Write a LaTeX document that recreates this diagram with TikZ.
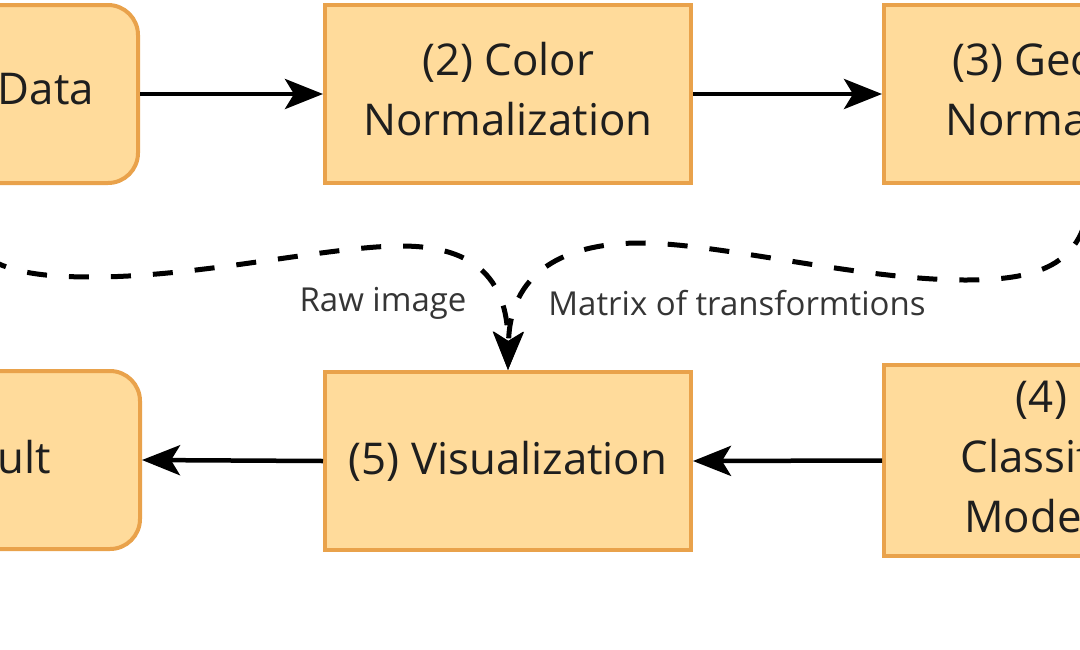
\documentclass[tikz,border=0pt]{standalone}
\usepackage{fontspec}
\setmainfont{Open Sans}
\usetikzlibrary{arrows.meta}
\definecolor{boxfill}{HTML}{FFDB9B}
\definecolor{boxline}{HTML}{E9A24B}
\definecolor{ink}{HTML}{1E1E1E}

\begin{document}
\begin{tikzpicture}[x=1pt,y=-1pt,
        box/.style={draw=boxline,fill=boxfill,line width=4pt,minimum width=366pt,minimum height=178pt,
            inner sep=0pt,align=center,text=ink,font=\fontsize{43.8}{60}\selectfont},
        endbox/.style={box,rounded corners=30pt},
        twoline/.style={text depth=10pt},
        flow/.style={line width=4.5pt,-{Stealth[length=38pt,width=30pt,inset=9pt]}},
        feed/.style={flow,line width=5pt,dash pattern=on 20pt off 22pt},
        lbl/.style={text=ink!90,font=\fontsize{33}{40}\selectfont}]
        \useasboundingbox (0,0) rectangle (1080,649);

        \node [endbox] (input) at(-45,94) {(1) Input Data};
        \node [box,twoline] (color) at(508,94) {(2) Color\\Normalization};
        \node [box,twoline,minimum width=412pt] (geo) at(1090,94) {(3) Geometric\\Normalization};
        \node [box,minimum width=420pt,minimum height=191pt] (model) at(1094,460.5) {(4) CNN\\Classification\\Model (CNN)};
        \node [box] (visual) at(508,461) {(5) Visualization};
        \node [endbox] (result) at(-43,460) {(6) Result};

        \draw [flow] (input.east)--(color.west);
        \draw [flow] (color.east)--(geo.west);
        \draw [flow] (model.west)--(visual.east);
        \draw [flow] (visual.west)--(result.east);

        \draw [feed] (input.south) .. controls (-45,265) and (10,277) .. (93,277)
            .. controls (200,277) and (330,246) .. (401,246)
            .. controls (470,246) and (508,275) .. (visual.north);
        \draw [feed] (geo.south) .. controls (1090,265) and (1040,280) .. (965,280)
            .. controls (860,280) and (720,243) .. (640,243)
            .. controls (575,243) and (510,265) .. (visual.north);

        \node [lbl] (rawlbl) at(383,303) {Raw image};
        \node [lbl] (matlbl) at(737,303) {Matrix of transformtions};
    \end{tikzpicture}
\end{document}
